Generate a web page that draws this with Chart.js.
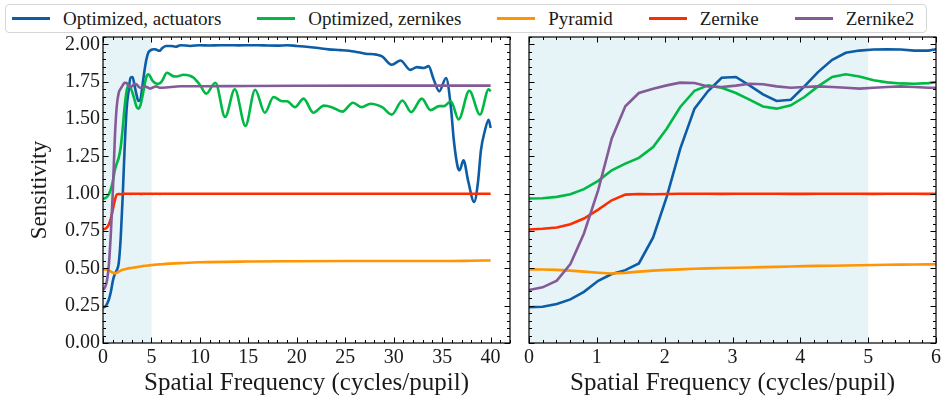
<!DOCTYPE html>
<html>
<head>
<meta charset="utf-8">
<script src="https://cdn.jsdelivr.net/npm/chart.js@4"></script>
<style>
    body { margin: 0; background: #fff; }
    #wrap { position: relative; width: 943px; height: 401px; font-family: 'Liberation Serif', 'Times New Roman', serif; }
    #left { position: absolute; left: 0; top: 0; }
    #right { position: absolute; left: 520px; top: 0; }
    #legend {
        position: absolute; left: 5px; top: 4px; width: 922px; height: 29px;
        box-sizing: border-box; border: 1px solid #d6d6d6; border-radius: 4px;
        display: flex; align-items: center; padding-left: 6px;
        font-size: 19px; color: #1a1a1a; background: #fff;
    }
    .item { display: flex; align-items: center; margin-right: 36px; white-space: nowrap; }
    .swatch { width: 38px; height: 3px; margin-right: 13px; }
</style>
</head>
<body>
<div id="wrap">
    <canvas id="left" width="520" height="401"></canvas>
    <canvas id="right" width="423" height="401"></canvas>
    <div id="legend"></div>
</div>
<script>
// frequency grid of the sampled curves (cycles/pupil)
const freqFine = [0, 0.2, 0.41, 0.61, 0.81, 1.02, 1.22, 1.42, 1.62, 1.83, 2.03, 2.23, 2.44, 2.64, 2.84, 3.05,
    3.25, 3.45, 3.65, 3.86, 4.06, 4.26, 4.47, 4.67, 4.87, 5.08, 5.28, 5.48, 5.68, 5.89, 6.09];

const actuatorsFine = [0.239, 0.243, 0.261, 0.292, 0.343, 0.417, 0.462, 0.488, 0.533, 0.707, 0.979, 1.302, 1.57,
    1.688, 1.777, 1.782, 1.726, 1.666, 1.621, 1.63, 1.719, 1.815, 1.897, 1.944, 1.959, 1.966, 1.968, 1.966, 1.959, 1.959, 1.975];
const zernikesFine = [0.968, 0.97, 0.979, 0.997, 1.031, 1.086, 1.157, 1.202, 1.24, 1.313, 1.436, 1.581, 1.69,
    1.726, 1.71, 1.675, 1.63, 1.585, 1.57, 1.592, 1.648, 1.719, 1.782, 1.8, 1.786, 1.76, 1.746, 1.739, 1.737, 1.741, 1.755];
const pyramidFine = [0.493, 0.492, 0.49, 0.485, 0.478, 0.471, 0.466, 0.47, 0.478, 0.485, 0.49, 0.493, 0.497, 0.5,
    0.502, 0.504, 0.506, 0.508, 0.51, 0.513, 0.515, 0.517, 0.518, 0.519, 0.521, 0.523, 0.524, 0.525, 0.526, 0.527, 0.528];
const zernikeFine = [0.76, 0.765, 0.774, 0.796, 0.834, 0.894, 0.956, 0.994, 0.998, 0.997, 0.998, 1.0, 1.0, 1.0,
    0.999, 1.0, 1.0, 1.0, 1.0, 0.999, 0.999, 1.0, 1.0, 1.0, 1.0, 0.999, 1.0, 1.0, 1.0, 0.999, 1.0];
const zernike2Fine = [0.355, 0.373, 0.418, 0.529, 0.734, 1.024, 1.37, 1.586, 1.675, 1.704, 1.726, 1.744, 1.742,
    1.719, 1.715, 1.724, 1.737, 1.733, 1.719, 1.71, 1.715, 1.719, 1.715, 1.71, 1.704, 1.71, 1.715, 1.719, 1.715, 1.71, 1.71];

// higher frequencies, read at the turning points
const actuatorsTailX = [6.5, 7, 7.5, 8, 9, 10, 11, 12, 13, 14, 15, 16, 17, 18, 19, 20, 21, 22, 23.3, 24.5, 25.9, 27.1,
    28.2, 28.8, 29.8, 30.7, 31.7, 32.4, 33.1, 33.6, 34.1, 34.7, 35.4, 35.9, 36.2, 36.6, 36.8, 37.2, 37.7, 38.3, 38.7,
    39, 39.4, 39.8, 40];
const actuatorsTailY = [1.99, 1.99, 1.985, 1.995, 1.99, 1.995, 1.993, 1.995, 1.995, 1.994, 1.995, 1.995, 1.993, 1.992,
    1.995, 1.99, 1.985, 1.978, 1.967, 1.962, 1.953, 1.938, 1.932, 1.92, 1.864, 1.893, 1.83, 1.848, 1.842, 1.855, 1.77,
    1.686, 1.775, 1.58, 1.36, 1.18, 1.157, 1.224, 1.08, 0.945, 1.08, 1.29, 1.42, 1.496, 1.44];
const zernikesTailX = [6.6, 7.3, 7.6, 8.3, 9.3, 10, 10.65, 11.6, 12.6, 13.6, 14.7, 15.7, 16.7, 17.6, 18.5, 19, 19.8,
    20.7, 21.7, 22.8, 23.6, 24.7, 25.8, 26.7, 27.6, 28.8, 29.8, 30.9, 31.8, 32.9, 33.8, 34.7, 35.2, 35.9, 36.7, 37.8,
    38.9, 39.8, 40];
const zernikesTailY = [1.81, 1.786, 1.785, 1.797, 1.78, 1.73, 1.67, 1.744, 1.514, 1.7, 1.454, 1.697, 1.543, 1.648,
    1.62, 1.62, 1.58, 1.637, 1.543, 1.59, 1.58, 1.55, 1.61, 1.58, 1.603, 1.58, 1.53, 1.625, 1.547, 1.637, 1.56, 1.587,
    1.587, 1.62, 1.498, 1.69, 1.53, 1.7, 1.686];
const pyramidTailX = [8, 10, 15, 20, 25, 30, 35, 38, 40];
const pyramidTailY = [0.535, 0.541, 0.546, 0.548, 0.549, 0.549, 0.549, 0.551, 0.553];
const zernikeTailX = [10, 20, 30, 40];
const zernikeTailY = [1.0, 1.0, 1.0, 1.0];
const zernike2TailX = [8, 10, 15, 20, 30, 40];
const zernike2TailY = [1.72, 1.72, 1.722, 1.723, 1.724, 1.724];

const serif = "'Liberation Serif', 'Times New Roman', serif";
const ink = '#1a1a1a';

let series = [
    {label: 'Optimized, actuators', color: '#0C5DA5', fine: actuatorsFine, tx: actuatorsTailX, ty: actuatorsTailY},
    {label: 'Optimized, zernikes', color: '#00B945', fine: zernikesFine, tx: zernikesTailX, ty: zernikesTailY},
    {label: 'Pyramid', color: '#FF9500', fine: pyramidFine, tx: pyramidTailX, ty: pyramidTailY},
    {label: 'Zernike', color: '#FF2C00', fine: zernikeFine, tx: zernikeTailX, ty: zernikeTailY},
    {label: 'Zernike2', color: '#845B97', fine: zernike2Fine, tx: zernike2TailX, ty: zernike2TailY}
];

let points = s => freqFine.map((f, i) => ({x: f, y: s.fine[i]}))
    .concat(s.tx.map((f, i) => ({x: f, y: s.ty[i]})));

let datasets = smooth => series.map((s, i) => ({
    label: s.label,
    data: points(s),
    borderColor: s.color,
    borderWidth: 2.6,
    pointRadius: 0,
    fill: false,
    tension: 0,
    cubicInterpolationMode: smooth ? 'monotone' : 'default',
    order: series.length - 1 - i
}));

// light blue band over the 0-5 cycles/pupil range
const band = {
    id: 'band',
    beforeDatasetsDraw(chart) {
        let {ctx, chartArea: a, scales: {x}} = chart;
        let x0 = Math.max(a.left, x.getPixelForValue(0));
        let x1 = Math.min(a.right, x.getPixelForValue(5));
        ctx.save();
        ctx.fillStyle = 'rgba(173, 216, 230, 0.3)';
        ctx.fillRect(x0, a.top, x1 - x0, a.bottom - a.top);
        ctx.restore();
    }
};

// box with inward major/minor ticks on every side
const frameTicks = {
    id: 'frameTicks',
    afterDraw(chart, args, o) {
        let {ctx, chartArea: a, scales: {x, y}} = chart;
        ctx.save();
        ctx.strokeStyle = '#000';
        ctx.lineWidth = 1;
        ctx.beginPath();
        let nx = Math.round((x.max - x.min) / o.xMinor);
        for (let i = 0; i <= nx; i++) {
            let p = Math.round(x.getPixelForValue(x.min + i * o.xMinor)) + 0.5;
            let len = i % o.xEvery === 0 ? 5.5 : 3;
            ctx.moveTo(p, a.bottom); ctx.lineTo(p, a.bottom - len);
            ctx.moveTo(p, a.top); ctx.lineTo(p, a.top + len);
        }
        let ny = Math.round((y.max - y.min) / o.yMinor);
        for (let i = 0; i <= ny; i++) {
            let p = Math.round(y.getPixelForValue(y.min + i * o.yMinor)) + 0.5;
            let len = i % o.yEvery === 0 ? 5.5 : 3;
            ctx.moveTo(a.left, p); ctx.lineTo(a.left + len, p);
            ctx.moveTo(a.right, p); ctx.lineTo(a.right - len, p);
        }
        ctx.stroke();
        ctx.lineWidth = 1.2;
        ctx.strokeRect(a.left, a.top, a.right - a.left, a.bottom - a.top);
        ctx.restore();
    }
};

let noPad = s => { s.paddingLeft = 0; s.paddingRight = 0; s.paddingTop = 0; s.paddingBottom = 0; };

let xScale = (max, step) => ({
    type: 'linear', min: 0, max: max,
    grid: {display: false, drawTicks: false},
    border: {display: false},
    ticks: {stepSize: step, includeBounds: false, padding: 3, color: ink, maxRotation: 0, autoSkip: false,
        font: {family: serif, size: 20}},
    title: {display: true, text: 'Spatial Frequency (cycles/pupil)', color: ink,
        font: {family: serif, size: 25}, padding: {top: 0, bottom: 3}},
    afterFit: s => { s.height = 58; noPad(s); }
});

let left = new Chart('left', {
    type: 'line',
    data: {datasets: datasets(true)},
    plugins: [band, frameTicks],
    options: {
        responsive: false,
        animation: false,
        layout: {padding: {left: 0, top: 37, right: 10, bottom: 0}},
        plugins: {legend: {display: false}, tooltip: {enabled: false},
            frameTicks: {xMinor: 1, xEvery: 5, yMinor: 0.05, yEvery: 5}},
        scales: {
            x: xScale(42, 5),
            y: {
                min: 0, max: 2.05,
                grid: {display: false, drawTicks: false},
                border: {display: false},
                ticks: {stepSize: 0.25, includeBounds: false, padding: 3, color: ink,
                    font: {family: serif, size: 20}, callback: v => v.toFixed(2)},
                title: {display: true, text: 'Sensitivity', color: ink,
                    font: {family: serif, size: 23}, padding: {top: 26, bottom: 0}},
                afterFit: s => { s.width = 103; noPad(s); }
            }
        }
    }
});

let right = new Chart('right', {
    type: 'line',
    data: {datasets: datasets(false)},
    plugins: [band, frameTicks],
    options: {
        responsive: false,
        animation: false,
        layout: {padding: {left: 9, top: 37, right: 7, bottom: 0}},
        plugins: {legend: {display: false}, tooltip: {enabled: false},
            frameTicks: {xMinor: 0.2, xEvery: 5, yMinor: 0.05, yEvery: 5}},
        scales: {
            x: xScale(6, 1),
            y: {min: 0, max: 2.05, display: false}
        }
    }
});

// shared legend across both panels
let legend = document.getElementById('legend');
series.forEach(s => {
    let item = document.createElement('div');
    item.className = 'item';
    let sw = document.createElement('span');
    sw.className = 'swatch';
    sw.style.background = s.color;
    let txt = document.createElement('span');
    txt.textContent = s.label;
    item.appendChild(sw);
    item.appendChild(txt);
    legend.appendChild(item);
});
</script>
</body>
</html>
